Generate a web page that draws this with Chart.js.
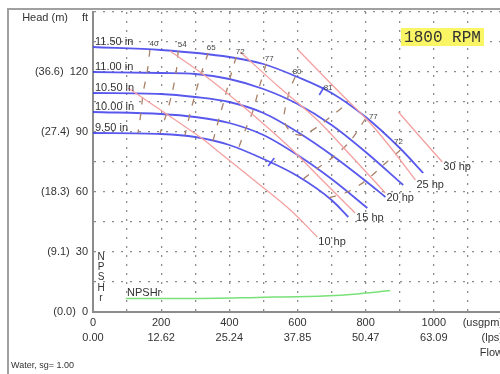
<!DOCTYPE html>
<html>
<head>
<meta charset="utf-8">
<script src="https://cdn.jsdelivr.net/npm/chart.js@4.4.1/dist/chart.umd.min.js"></script>
<style>
html, body { margin: 0; padding: 0; background: #fff; overflow: hidden; }
#quadro { position: absolute; left: 0; top: 0; width: 500px; height: 374px; overflow: hidden; }
#moldura { position: absolute; left: 7px; top: 8px; width: 520px; height: 400px;
           border-left: 2px solid #a0a0a0; border-top: 2px solid #a0a0a0; }
#caixa { position: absolute; left: 0; top: 0; width: 506px; height: 374px; }
</style>
</head>
<body>
<div id="quadro">
  <div id="moldura"></div>
  <div id="caixa"><canvas id="graficoBomba"></canvas></div>
</div>
<script>
// Curva de bomba - 1800 RPM

Chart.defaults.font.family = '"Liberation Sans", Arial, sans-serif';
Chart.defaults.font.size = 11;
Chart.defaults.color = '#333';

// Eixos
const ticksVazao = [0, 200, 400, 600, 800, 1000];
const ticksVazaoLps = ['0.00', '12.62', '25.24', '37.85', '50.47', '63.09'];
const ticksAltura = [0, 30, 60, 90, 120];
const ticksAlturaM = ['0.0', '9.1', '18.3', '27.4', '36.6'];

// Curvas dos rotores (usgpm, ft)
const diametros = ['11.50 in', '11.00 in', '10.50 in', '10.00 in', '9.50 in'];
const rotor1150 = [[0, 132.5], [200, 131], [400, 127.5], [500, 124], [600, 117.5], [700, 109.5], [800, 97.5], [900, 82], [969, 69.5]];
const rotor1100 = [[0, 120], [200, 119.5], [300, 119], [400, 116.5], [500, 111.5], [600, 104], [700, 93.5], [800, 80], [910, 63.5]];
const rotor1050 = [[0, 109.5], [200, 109], [300, 107.5], [400, 105], [500, 99.5], [600, 90], [700, 78.5], [800, 65.5], [858, 57.5]];
const rotor1000 = [[0, 100], [200, 99], [300, 97.5], [400, 94.5], [500, 88.5], [600, 78.5], [700, 66.5], [805, 52]];
const rotor950 = [[0, 89.5], [200, 89], [300, 87.5], [400, 83.5], [500, 76.5], [600, 68], [700, 56], [749, 47.5]];

// Linhas de potência
const potencias = ['10 hp', '15 hp', '20 hp', '25 hp', '30 hp'];
const pot10 = [[103, 112], [314, 87.5], [373, 79.5], [490, 63.5], [579, 51], [658, 37.5]];
const pot15 = [[226, 130.5], [330, 118], [446, 102], [579, 82], [672, 66], [769, 49.5]];
const pot20 = [[432, 130], [549, 112], [658, 96], [755, 78.5], [858, 59.5]];
const pot25 = [[602, 131], [725, 109.5], [805, 96], [872, 82.5], [946, 66]];
const pot30 = [[896, 100], [960, 87.5], [1025, 75]];

// Isoeficiência (%)
const rendimentos = ['40', '54', '65', '72', '77', '80', '77', '72'];
const ef40 = [[167, 131], [159, 120], [147, 109.5], [141, 100], [132, 89.5]];
const ef54 = [[250, 130.5], [244, 120], [232, 109.5], [217, 100], [197, 89.5]];
const ef65 = [[338, 129.5], [317, 119], [300, 109], [285, 99.5], [270, 88.5]];
const ef72 = [[420, 127.5], [402, 117], [385, 106], [370, 97], [352, 85.5]];
const ef77 = [[508, 124], [488, 112.5], [470, 101], [449, 92], [426, 81.5]];
const ef80 = [[593, 117.5], [579, 112], [570, 106], [561, 99], [564, 94], [584, 89.5], [614, 88.5], [658, 92.5], [696, 97.5], [734, 102.5], [749, 104]];
const ef77b = [[799, 96.5], [755, 85.5], [705, 77.5], [655, 71.5], [617, 66.5]];
const ef72b = [[902, 81], [849, 73], [799, 65.5], [746, 60], [690, 57]];

// Melhor eficiência
const bepRotulo = '81';
const bep1150 = [[664, 108.5], [678, 112.5]];
const bep950 = [[514, 73], [532, 77]];

// NPSH requerido
const npshr = [[97, 6.8], [285, 6.8], [482, 7.3], [675, 8], [775, 9], [872, 10.7]];

// Cores
const cores = {
    rotor: 'rgba(70, 70, 235, 0.9)',
    potencia: 'rgb(245, 160, 160)',
    eficiencia: 'rgb(170, 130, 105)',
    npsh: 'rgb(120, 225, 120)',
    grade: '#8c8c8c',
    eixo: '#8c8c8c',
    texto: '#333'
};

const pontos = arr => arr.map(([q, h]) => ({ x: q, y: h }));

function serie(arr, cor, largura, extra) {
    return Object.assign({
        data: pontos(arr),
        borderColor: cor,
        borderWidth: largura,
        pointRadius: 0,
        fill: false,
        tension: 0.35
    }, extra || {});
}

const curvasRotor = [rotor1150, rotor1100, rotor1050, rotor1000, rotor950];
const curvasPot = [pot10, pot15, pot20, pot25, pot30];
const curvasEf = [ef40, ef54, ef65, ef72, ef77, ef80, ef77b, ef72b];

// deslocamento dos rótulos de eficiência (px) a partir do 1º ponto
const ajusteEf = [[4, -6], [4, -6], [3, -5], [4, -5], [3, -5], [2, -5], [8, -2], [-2, -8]];

const datasets = [];
curvasPot.forEach(c => datasets.push(serie(c, cores.potencia, 1.3)));
curvasEf.forEach(c => datasets.push(serie(c, cores.eficiencia, 1.3, { borderDash: [7, 9], tension: 0.3 })));
curvasRotor.forEach(c => datasets.push(serie(c, cores.rotor, 1.8, { cubicInterpolationMode: 'monotone' })));
datasets.push(serie(bep1150, cores.rotor, 1.6, { tension: 0 }));
datasets.push(serie(bep950, cores.rotor, 1.6, { tension: 0 }));
datasets.push(serie(npshr, cores.npsh, 1.5, { cubicInterpolationMode: 'monotone' }));

const pixel = (chart, [q, h]) => [chart.scales.x.getPixelForValue(q), chart.scales.y.getPixelForValue(h)];

const textosPlugin = {
    id: 'textos',
    afterDraw(chart) {
        const { ctx, scales: { x, y } } = chart;
        const esq = x.left;
        ctx.save();
        ctx.fillStyle = cores.texto;
        ctx.font = '11px "Liberation Sans", Arial, sans-serif';

        // eixo vertical
        ctx.textBaseline = 'middle';
        ctx.textAlign = 'right';
        ticksAltura.forEach((v, i) => {
            const py = y.getPixelForValue(v);
            const ft = String(v);
            ctx.fillText(ft, esq - 5, py);
            ctx.fillText('(' + ticksAlturaM[i] + ')', esq - 5 - ctx.measureText(ft).width - 6, py);
        });
        ctx.fillText('ft', esq - 5, 18);
        ctx.fillText('Head (m)', esq - 25, 18);

        // eixo horizontal
        ctx.textAlign = 'center';
        ticksVazao.forEach((v, i) => {
            const px = x.getPixelForValue(v);
            ctx.fillText(String(v), px, y.bottom + 11);
            ctx.fillText(ticksVazaoLps[i], px, y.bottom + 26);
        });
        ctx.textAlign = 'right';
        ctx.fillText('(usgpm)', 503, y.bottom + 11);
        ctx.fillText('(lps)', 503, y.bottom + 26);
        ctx.fillText('Flow', 503, y.bottom + 41);

        // diâmetros
        ctx.textAlign = 'left';
        curvasRotor.forEach((c, i) => {
            const [px, py] = pixel(chart, c[0]);
            ctx.fillText(diametros[i], px + 2, py - 5);
        });

        // potências
        curvasPot.forEach((c, i) => {
            const [px, py] = pixel(chart, c[c.length - 1]);
            ctx.fillText(potencias[i], px + 1, py + 5);
        });

        // NPSHr
        const [nx, ny] = pixel(chart, npshr[0]);
        ctx.fillText('NPSHr', nx + 1, ny - 5);
        ctx.font = '10px "Liberation Sans", Arial, sans-serif';
        ctx.textAlign = 'center';
        ['N', 'P', 'S', 'H', 'r'].forEach((l, i) => ctx.fillText(l, esq + 8, 257 + i * 10.3));

        // rendimentos
        ctx.font = '8px "Liberation Sans", Arial, sans-serif';
        ctx.fillStyle = '#444';
        curvasEf.forEach((c, i) => {
            const [px, py] = pixel(chart, c[0]);
            ctx.fillText(rendimentos[i], px + ajusteEf[i][0], py + ajusteEf[i][1]);
        });
        const [bx, by] = pixel(chart, bep1150[1]);
        ctx.fillText(bepRotulo, bx + 4, by + 1);

        // rodapé
        ctx.fillStyle = cores.texto;
        ctx.font = '9px "Liberation Sans", Arial, sans-serif';
        ctx.textAlign = 'left';
        ctx.fillText('Water, sg= 1.00', 11, 366);

        // rotação
        ctx.fillStyle = 'rgb(250, 245, 100)';
        ctx.fillRect(401, 28, 83, 18);
        ctx.fillStyle = '#333';
        ctx.font = '16px "Liberation Mono", "DejaVu Sans Mono", monospace';
        ctx.textAlign = 'center';
        ctx.fillText('1800 RPM', 442.5, 37.5);
        ctx.restore();
    }
};

const eixo = (min, max, passo) => ({
    type: 'linear',
    min: min,
    max: max,
    ticks: { display: false, stepSize: passo },
    grid: { color: cores.grade, lineWidth: 1.3, drawTicks: false },
    border: { display: true, color: cores.eixo, width: 2, dash: [2, 7] }
});

new Chart(document.getElementById('graficoBomba'), {
    type: 'line',
    data: { datasets: datasets },
    options: {
        responsive: true,
        maintainAspectRatio: false,
        animation: false,
        devicePixelRatio: 1,
        parsing: true,
        layout: { padding: { left: 93, top: 12, right: 4, bottom: 62 } },
        plugins: { legend: { display: false }, tooltip: { enabled: false } },
        scales: {
            x: eixo(0, 1200, 100),
            y: eixo(0, 150, 15)
        }
    },
    plugins: [textosPlugin]
});
</script>
</body>
</html>
